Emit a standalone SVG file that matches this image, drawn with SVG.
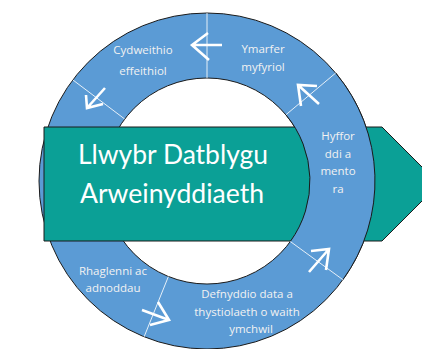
<svg xmlns="http://www.w3.org/2000/svg" width="422" height="349" viewBox="0 0 422 349">
<style>
.ring{fill:#5B9BD5;stroke:#1a1a1a;stroke-width:1}
.seg{fill:#5B9BD5;stroke:none}
.arc{fill:none;stroke:#1a1a1a;stroke-width:1}
.div{stroke:#ffffff;stroke-width:1;opacity:0.85}
.arr{fill:none;stroke:#ffffff;stroke-width:2.6;stroke-linecap:butt;stroke-linejoin:miter}
.lbl{font-family:"Open Sans","Liberation Sans",Arial,sans-serif;font-size:11.5px;fill:#F2F2F2;text-anchor:middle}
.title{font-family:Lato,"Liberation Sans",sans-serif;font-size:26px;fill:#ffffff;text-anchor:middle}
</style>
<rect width="422" height="349" fill="#ffffff"/>
<g id="ring">
<path class="ring" fill-rule="evenodd" d="M39,181 A168,168 0 1,0 375,181 A168,168 0 1,0 39,181 Z M104,181 A103,103 0 1,0 310,181 A103,103 0 1,0 104,181 Z"/>
</g>
<g id="main">
<path d="M44,127 L382,127 L439,184 L382,241 L44,241 Z" fill="#0BA096" stroke="#1a1a1a" stroke-width="1"/>
<text class="title" x="173" y="164" textLength="190" lengthAdjust="spacingAndGlyphs">Llwybr Datblygu</text>
<text class="title" x="172" y="203" textLength="184" lengthAdjust="spacingAndGlyphs">Arweinyddiaeth</text>
</g>
<g id="ring-right">
<path class="seg" d="M335.7,73 A168,168 0 0,1 342.9,279.7 L290.3,241.5 A103,103 0 0,0 285.9,114.8 Z"/>
<path class="arc" d="M335.7,73 A168,168 0 0,1 342.9,279.7"/>
<path class="arc" d="M290.3,241.5 A103,103 0 0,0 285.9,114.8"/>
</g>
<g id="connectors">
<line class="div" x1="72.8" y1="79.9" x2="124.7" y2="119"/>
<line class="div" x1="207" y1="13" x2="207" y2="78"/>
<line class="div" x1="335.7" y1="73" x2="285.9" y2="114.8"/>
<line class="div" x1="342.9" y1="279.7" x2="290.3" y2="241.5"/>
<line class="div" x1="144.1" y1="336.8" x2="168.4" y2="276.5"/>
<path class="arr" d="M222,45 L192,45 M208,33 L192,45 L209,60"/>
<path class="arr" d="M105,88 L87,108 M86,95 L87,108 L103,104"/>
<path class="arr" d="M319,104 L298,85 M317,86 L298,85 L301,106"/>
<path class="arr" d="M309,272 L329,249 M311,251 L329,249 L326,270"/>
<path class="arr" d="M142,310 L169,320 M158,302 L169,320 L150,325"/>
</g>
<g id="n-cydweithio">
<text class="lbl" x="143" y="54">Cydweithio</text>
<text class="lbl" x="143" y="75">effeithiol</text>
</g>
<g id="n-ymarfer">
<text class="lbl" x="263" y="53">Ymarfer</text>
<text class="lbl" x="263" y="71">myfyriol</text>
</g>
<g id="n-hyfforddi">
<text class="lbl" x="338" y="140">Hyffor</text>
<text class="lbl" x="338" y="158">ddi a</text>
<text class="lbl" x="338" y="175">mento</text>
<text class="lbl" x="338" y="193">ra</text>
</g>
<g id="n-defnyddio">
<text class="lbl" x="247" y="298">Defnyddio data a</text>
<text class="lbl" x="247" y="316">thystiolaeth o waith</text>
<text class="lbl" x="251" y="333">ymchwil</text>
</g>
<g id="n-rhaglenni">
<text class="lbl" x="113" y="275">Rhaglenni ac</text>
<text class="lbl" x="113" y="292">adnoddau</text>
</g>
</svg>
